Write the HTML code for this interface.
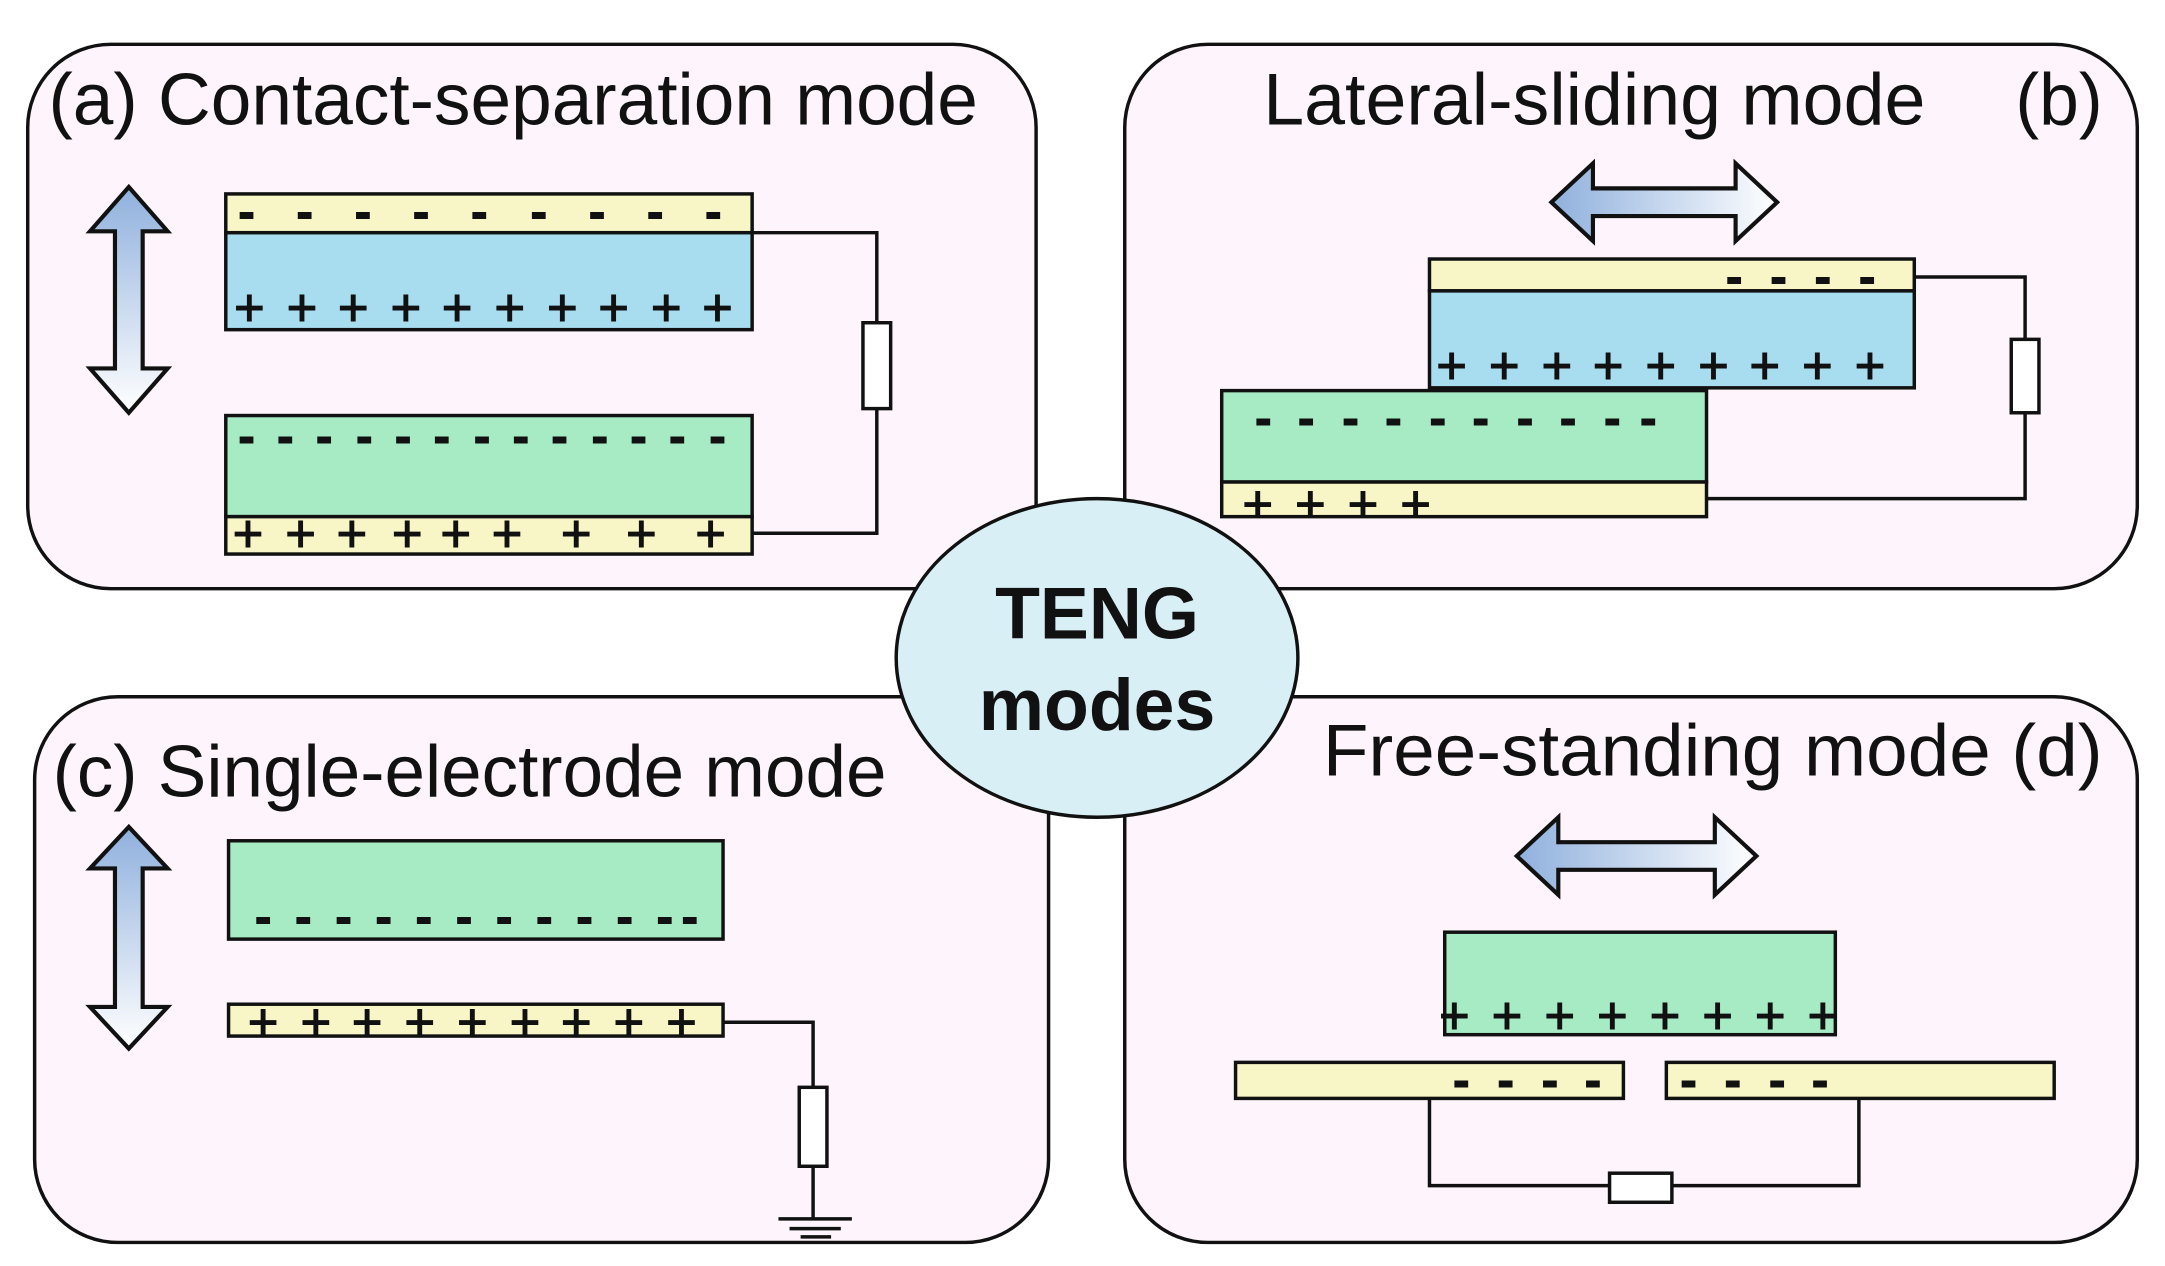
<!DOCTYPE html>
<html><head><meta charset="utf-8"><style>
html,body{margin:0;padding:0;background:#fff;}
svg{display:block;}
text{font-family:"Liberation Sans",Arial,sans-serif;}
.t{font-size:53px;fill:#111;}
.p{font-size:38px;fill:#111;text-anchor:middle;stroke:#111;stroke-width:0.8;}
.m{font-size:36px;font-weight:bold;fill:#111;text-anchor:middle;stroke:#111;stroke-width:0.8;}
</style></head><body>
<svg width="2165" height="1266" viewBox="0 0 1563 914" preserveAspectRatio="none" xmlns="http://www.w3.org/2000/svg">
<defs>
<linearGradient id="gv" x1="0" y1="0" x2="0" y2="1"><stop offset="0" stop-color="#8fb0dd"/><stop offset="1" stop-color="#ffffff"/></linearGradient>
<linearGradient id="gh" x1="0" y1="0" x2="1" y2="0"><stop offset="0" stop-color="#8fb0dd"/><stop offset="1" stop-color="#ffffff"/></linearGradient>
</defs>
<rect width="1563" height="914" fill="#fff"/>
<g fill="#fdf5fb" stroke="#111" stroke-width="2.5">
<rect x="20" y="32" width="728" height="393" rx="60"/>
<rect x="812" y="32" width="731" height="393" rx="60"/>
<rect x="25" y="503" width="732" height="394" rx="60"/>
<rect x="812" y="503" width="731" height="394" rx="60"/>
</g>
<ellipse cx="792" cy="475" rx="145" ry="115" fill="#d8eff6" stroke="#111" stroke-width="2.5"/>
<text x="792" y="461" font-size="53" font-weight="bold" text-anchor="middle" fill="#111">TENG</text>
<text x="792" y="527" font-size="53" font-weight="bold" text-anchor="middle" fill="#111">modes</text>

<text class="t" x="35" y="90" textLength="671" lengthAdjust="spacingAndGlyphs">(a) Contact-separation mode</text>
<text class="t" x="912" y="90" textLength="478" lengthAdjust="spacingAndGlyphs">Lateral-sliding mode</text>
<text class="t" x="1455" y="90" textLength="63" lengthAdjust="spacingAndGlyphs">(b)</text>
<text class="t" x="38" y="575" textLength="602" lengthAdjust="spacingAndGlyphs">(c) Single-electrode mode</text>
<text class="t" x="955" y="560" textLength="563" lengthAdjust="spacingAndGlyphs">Free-standing mode  (d)</text>

<g stroke="#111" stroke-width="2.5">
<rect x="163" y="140" width="380" height="28" fill="#f8f6c6"/>
<rect x="163" y="168" width="380" height="70" fill="#a8dcef"/>
<rect x="163" y="300" width="380" height="73" fill="#a6ebc3"/>
<rect x="163" y="373" width="380" height="27" fill="#f8f6c6"/>
<polyline points="543,168 633,168 633,385 543,385" fill="none"/>
<rect x="623" y="233" width="20" height="62" fill="#fff"/>
<polygon points="93,135 121,167 103,167 103,266 121,266 93,298 65,266 83,266 83,167 65,167" fill="url(#gv)" stroke-width="3"/>
<rect x="1032" y="187" width="350" height="23" fill="#f8f6c6"/>
<rect x="1032" y="210" width="350" height="70" fill="#a8dcef"/>
<rect x="882" y="282" width="350" height="66" fill="#a6ebc3"/>
<rect x="882" y="348" width="350" height="25" fill="#f8f6c6"/>
<polyline points="1382,200 1462,200 1462,360 1232,360" fill="none"/>
<rect x="1452" y="245" width="20" height="53" fill="#fff"/>
<polygon points="1120,146 1150,118 1150,136 1253,136 1253,118 1283,146 1253,174 1253,156 1150,156 1150,174" fill="url(#gh)" stroke-width="3"/>
<rect x="165" y="607" width="357" height="71" fill="#a6ebc3"/>
<rect x="165" y="725" width="357" height="23" fill="#f8f6c6"/>
<polyline points="522,738 587,738 587,880" fill="none"/>
<rect x="577" y="785" width="20" height="57" fill="#fff"/>
<line x1="562" y1="880" x2="615" y2="880"/>
<line x1="570" y1="887" x2="607" y2="887"/>
<line x1="578" y1="893" x2="600" y2="893"/>
<polygon points="93,597 121,627 103,627 103,727 121,727 93,757 65,727 83,727 83,627 65,627" fill="url(#gv)" stroke-width="3"/>
<rect x="1043" y="673" width="282" height="74" fill="#a6ebc3"/>
<rect x="892" y="767" width="280" height="26" fill="#f8f6c6"/>
<rect x="1203" y="767" width="280" height="26" fill="#f8f6c6"/>
<polyline points="1032,793 1032,856 1342,856 1342,793" fill="none"/>
<rect x="1162" y="847" width="45" height="21" fill="#fff"/>
<polygon points="1095,618 1125,590 1125,608 1238,608 1238,590 1268,618 1238,646 1238,628 1125,628 1125,646" fill="url(#gh)" stroke-width="3"/>
</g>

<text class="m" x="178 220 262 304 346 389 431 473 515" y="165">---------</text>
<text class="p" x="180 218 255 293 330 368 406 443 481 518" y="235">++++++++++</text>
<text class="m" x="178 206 234 263 291 319 348 376 404 433 461 489 518" y="327">-------------</text>
<text class="p" x="179 217 254 294 329 366 416 463 513" y="398">+++++++++</text>

<text class="m" x="1252 1284 1316 1348" y="212">----</text>
<text class="p" x="1048 1086 1124 1161 1199 1237 1274 1312 1350" y="277">+++++++++</text>
<text class="m" x="912 943 975 1006 1038 1069 1101 1132 1164 1190" y="314">----------</text>
<text class="p" x="908 946 984 1022" y="377">++++</text>

<text class="m" x="190 219 248 277 306 335 364 393 422 451 480 498" y="674">------------</text>
<text class="p" x="190 228 265 303 341 379 416 454 492" y="751">+++++++++</text>

<text class="p" x="1050 1088 1126 1164 1202 1240 1278 1316" y="746">++++++++</text>
<text class="m" x="1055 1087 1119 1150" y="792">----</text>
<text class="m" x="1219 1251 1283 1314" y="792">----</text>
</svg>
</body></html>
